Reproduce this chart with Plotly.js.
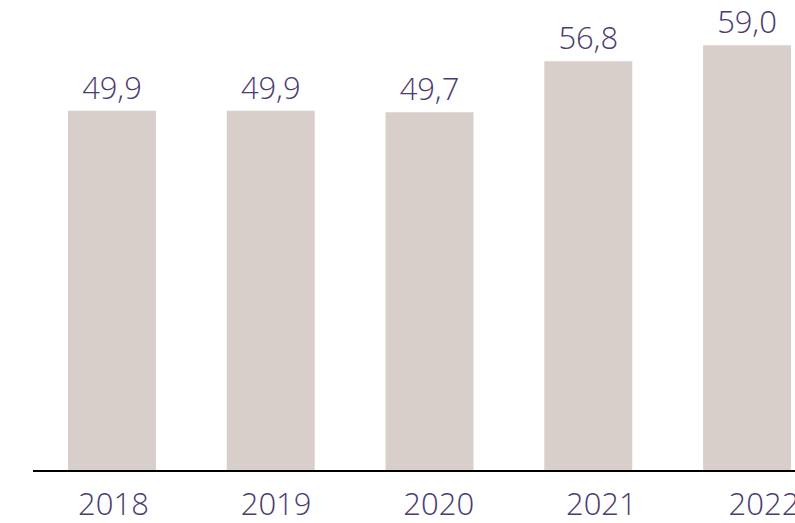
<!DOCTYPE html>
<html>
<head>
<meta charset="utf-8">
<script src="https://cdn.plot.ly/plotly-3.0.1.min.js"></script>
<style>html,body{margin:0;padding:0;overflow:hidden;background:#fff}</style>
</head>
<body>
<div id="chart" style="width:795px;height:523px"></div>
<script>
const years = ["2018", "2019", "2020", "2021", "2022"];
const values = [49.9, 49.9, 49.7, 56.8, 59.0];
const valueLabels = ["49,9", "49,9", "49,7", "56,8", "59,0"];

const textColor = "#4b3b6f";
const barColor = "#d8cfcb";
const fontFamily = "'Open Sans Light', 'Open Sans', sans-serif";
const idx = years.map((_, i) => i);

const traces = [
  {
    type: "bar",
    x: idx,
    y: values,
    text: valueLabels,
    textposition: "outside",
    cliponaxis: false,
    textfont: {family: fontFamily, size: 31, color: textColor, weight: 300},
    marker: {color: barColor},
    hoverinfo: "none"
  },
  {
    type: "scatter",
    mode: "markers",
    x: idx,
    y: values,
    xaxis: "x2",
    marker: {opacity: 0},
    hoverinfo: "none",
    showlegend: false
  }
];

const layout = {
  width: 795,
  height: 523,
  margin: {l: 33, r: 0, t: 0, b: 53},
  paper_bgcolor: "#ffffff",
  plot_bgcolor: "#ffffff",
  showlegend: false,
  bargap: 0.446,
  xaxis: {
    range: [-0.4976, 4.302],
    showticklabels: false,
    showgrid: false,
    zeroline: false,
    showline: true,
    linecolor: "#000000",
    linewidth: 2,
    ticks: "",
    fixedrange: true
  },
  xaxis2: {
    overlaying: "x",
    anchor: "y",
    side: "bottom",
    range: [-0.495, 4.191],
    tickmode: "array",
    tickvals: idx,
    ticktext: years,
    ticks: "outside",
    ticklen: 7,
    tickcolor: "rgba(0,0,0,0)",
    ticklabeloverflow: "allow",
    tickfont: {family: fontFamily, size: 31, color: textColor, weight: 300},
    showgrid: false,
    zeroline: false,
    showline: false
  },
  yaxis: {
    range: [0, 65.3],
    visible: false,
    showgrid: false,
    zeroline: false
  }
};

Plotly.newPlot("chart", traces, layout, {displayModeBar: false, staticPlot: true});
</script>
</body>
</html>
